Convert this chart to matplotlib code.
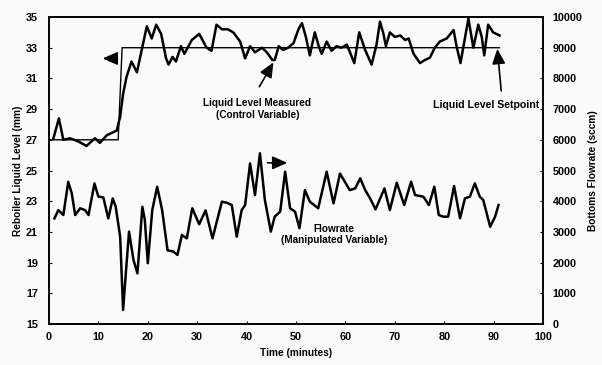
import matplotlib.pyplot as plt
import numpy as np

plt.rcParams['font.family'] = ['Liberation Sans', 'DejaVu Sans']
plt.rcParams['font.weight'] = 'bold'

# liquid level measured (mm)
level_t = [0.9, 2.0, 2.9, 4.25, 5.9, 7.6, 9.3, 10.3, 11.7, 13.7, 14.4, 15.0, 15.7, 16.7, 17.8,
           18.8, 19.8, 20.8, 21.7, 22.7, 23.7, 24.2, 25.0, 25.7, 26.7, 27.4, 28.9, 30.4, 31.9,
           32.9, 33.9, 35.0, 36.2, 37.3, 38.7, 39.7, 40.7, 41.7, 43.1, 44.1, 45.2, 45.7, 46.5,
           47.4, 48.4, 49.5, 50.5, 51.2, 52.0, 52.8, 53.8, 54.6, 55.2, 56.2, 57.2, 58.2, 59.2,
           60.3, 61.8, 62.8, 64.0, 65.3, 66.3, 67.0, 67.7, 68.2, 69.0, 70.0, 71.1, 72.1, 72.8,
           73.8, 75.1, 76.1, 77.1, 78.1, 79.1, 80.5, 81.9, 82.5, 83.3, 84.9, 85.9, 86.9, 87.6,
           88.1, 88.9, 89.9, 91.2]
level_mm = [27.1, 28.4, 27.0, 27.1, 26.9, 26.6, 27.1, 26.8, 27.3, 27.6, 28.5, 30.0, 31.1, 32.1, 31.4,
            32.9, 34.4, 33.6, 34.5, 33.9, 32.3, 31.9, 32.4, 32.1, 33.1, 32.6, 33.5, 33.9, 33.0,
            32.8, 34.5, 34.2, 34.2, 34.0, 33.4, 32.3, 33.1, 32.7, 33.0, 32.7, 32.2, 32.2, 33.1,
            32.85, 33.0, 33.3, 34.2, 34.6, 33.7, 32.5, 34.0, 33.1, 32.6, 33.4, 32.8, 33.1, 33.0,
            33.2, 32.0, 34.0, 32.85, 31.9, 33.2, 34.7, 33.9, 33.1, 34.0, 33.7, 33.8, 33.5, 33.6,
            32.6, 32.0, 32.2, 32.35, 33.0, 33.4, 33.6, 34.15, 33.1, 32.0, 34.9, 33.0, 34.5, 33.7,
            32.5, 34.5, 34.0, 33.8]

# setpoint (mm)
sp_t = [0, 14.0, 14.8, 91.2]
sp_mm = [27, 27, 33, 33]

# bottoms flowrate (sccm)
flow_t = [1.1, 1.9, 2.9, 3.9, 4.6, 5.3, 6.3, 7.3, 8.0, 9.2, 10.0, 11.0, 12.0, 12.9, 13.5, 14.4,
          15.0, 15.6, 16.2, 17.1, 17.9, 18.9, 19.4, 20.0, 20.9, 21.9, 22.9, 24.0, 25.2, 26.0,
          26.9, 27.9, 29.0, 30.4, 31.7, 33.1, 35.0, 36.0, 37.0, 38.0, 39.0, 39.7, 40.7, 41.7,
          42.7, 43.7, 44.9, 45.7, 46.8, 47.8, 48.8, 49.8, 50.7, 51.8, 52.8, 54.5, 56.2, 57.6,
          58.9, 60.9, 62.0, 63.0, 64.0, 65.0, 66.1, 67.9, 69.0, 70.4, 71.9, 73.3, 74.1, 75.8,
          76.9, 78.0, 78.9, 79.8, 80.8, 82.0, 83.2, 84.2, 85.2, 86.2, 87.2, 87.9, 89.3, 90.3, 91.0]
flow_sccm = [3440, 3710, 3550, 4630, 4260, 3550, 3770, 3710, 3550, 4580, 4150, 4120, 3440, 4090, 3820, 2850,
             460, 1760, 3010, 2090, 1650, 3820, 3390, 1980, 3710, 4470, 3710, 2400, 2360, 2250,
             2900, 2790, 3770, 3250, 3700, 2790, 3985, 3950, 3875, 2845, 3710, 3875, 5230, 4200,
             5560, 4040, 3010, 3500, 3660, 4960, 3770, 3660, 3120, 4360, 3985, 3770, 4960, 3930,
             4900, 4360, 4420, 4745, 4364, 4094, 3735, 4418, 3713, 4602, 3875, 4635, 4200, 4146,
             3875, 4472, 3550, 3496, 3496, 4494, 3442, 4094, 4146, 4582, 4146, 4040, 3170, 3496, 3875]

fig = plt.figure(figsize=(6.02, 3.65), dpi=100)
fig.patch.set_facecolor('#fafafa')
ax = fig.add_axes([0.0814, 0.1123, 0.8206, 0.8411])
ax.set_facecolor('#fafafa')
ax2 = ax.twinx()

ax.plot(sp_t, sp_mm, color='black', lw=1.0)
ax.plot(level_t, level_mm, color='black', lw=1.8)
ax2.plot(flow_t, flow_sccm, color='black', lw=1.8)

ax.set_xlim(0, 100)
ax.set_ylim(15, 35)
ax2.set_ylim(0, 10000)
ax.set_xticks(np.arange(0, 101, 10))
ax.set_yticks(np.arange(15, 36, 2))
ax2.set_yticks(np.arange(0, 10001, 1000))

for a in (ax, ax2):
    a.tick_params(direction='in', length=2.5, width=0.8, labelsize=7.8)
    for s in a.spines.values():
        s.set_linewidth(1.2)
ax.tick_params(axis='x', pad=6)
ax.tick_params(axis='y', pad=8)
ax2.tick_params(axis='y', pad=7)

ax.set_xlabel('Time (minutes)', fontsize=7.3, fontweight='bold', labelpad=4)
ax.set_ylabel('Reboiler Liquid Level (mm)', fontsize=7.3, fontweight='bold', labelpad=2)
ax2.set_ylabel('Bottoms Flowrate (sccm)', fontsize=7.3, fontweight='bold', labelpad=4)

head = dict(arrowstyle='-|>,head_length=0.9,head_width=0.4', color='black', lw=1.2)
ax.annotate('', xy=(10.3, 32.3), xytext=(14.4, 32.3), arrowprops=head)
ax.annotate('', xy=(48.8, 25.5), xytext=(43.7, 25.5), arrowprops=head)
ax.annotate('', xy=(45.7, 32.2), xytext=(42.3, 30.3), arrowprops=head)
ax.annotate('', xy=(90.7, 33.1), xytext=(91.6, 30.0), arrowprops=head)

ax.text(42.2, 29.7, 'Liquid Level Measured\n(Control Variable)', fontsize=7.2, ha='center',
        va='top', fontweight='bold', linespacing=1.15)
ax.text(88.4, 29.3, 'Liquid Level Setpoint', fontsize=7.6, ha='center', va='center',
        fontweight='bold')
ax.text(57.7, 21.5, 'Flowrate\n(Manipulated Variable)', fontsize=7.2, ha='center', va='top',
        fontweight='bold', linespacing=1.15)

fig.savefig('out.png', dpi=100, facecolor=fig.get_facecolor())
